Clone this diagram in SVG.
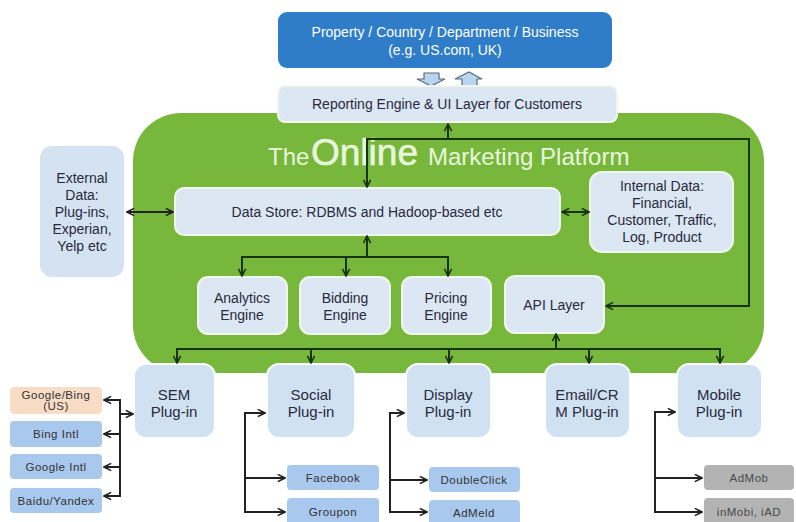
<svg xmlns="http://www.w3.org/2000/svg" width="796" height="522" viewBox="0 0 796 522">
  <style>
    text { font-family: "Liberation Sans", Arial, sans-serif; text-anchor: middle; fill: #2a2a3c; }
    .box { fill: #dbe7f3; stroke: #f2f7ee; stroke-width: 2; }
    .ext { fill: #d4e2f1; }
    .plug { fill: #d0e1f2; stroke: #ffffff; stroke-width: 2; }
    .sub { fill: #a9c8ee; }
    .sub-us { fill: #f9dcc6; }
    .sub-grey { fill: #b3b3b3; }
    .t14 { font-size: 14px; }
    .t15 { font-size: 15px; }
    .t11 { font-size: 11.5px; letter-spacing: 0.5px; fill: #333333; }
    .tg { font-size: 11.5px; letter-spacing: 0.5px; fill: #4a4a4a; }
    .in { fill: none; stroke: #17330f; stroke-width: 2; }
    .out { fill: none; stroke: #222222; stroke-width: 2; }
    .title { fill: #eaf6dc; text-anchor: start; }
  </style>
  <defs>
    <marker id="ah-in" viewBox="0 0 10 10" refX="9" refY="5" markerWidth="9" markerHeight="9" markerUnits="userSpaceOnUse" orient="auto-start-reverse">
      <path d="M1,1 L9,5 L1,9" fill="none" stroke="#17330f" stroke-width="1.8"/>
    </marker>
    <marker id="ah-out" viewBox="0 0 10 10" refX="9" refY="5" markerWidth="9" markerHeight="9" markerUnits="userSpaceOnUse" orient="auto-start-reverse">
      <path d="M1,1 L9,5 L1,9" fill="none" stroke="#222222" stroke-width="1.8"/>
    </marker>
  </defs>

  <rect width="796" height="522" fill="#ffffff"/>

  <!-- platform background -->
  <g id="platform">
    <rect x="133" y="113" width="631" height="260" rx="48" fill="#77b83c"/>
    <text class="title" x="268" y="165" font-size="24">The</text>
    <text class="title" x="311" y="165" font-size="37" stroke="#eaf6dc" stroke-width="0.6">Online</text>
    <text class="title" x="428" y="165" font-size="24">Marketing Platform</text>
  </g>

  <g id="property">
    <rect x="278" y="12" width="334" height="56" rx="9" fill="#2f7dc8"/>
    <text class="t14" x="445" y="37" style="fill:#ffffff">Property / Country / Department / Business</text>
    <text class="t14" x="445" y="55" style="fill:#ffffff">(e.g. US.com, UK)</text>
  </g>

  <!-- block arrows between property and reporting layer -->
  <g id="exchange">
    <path d="M424,73 H439 V79 H445 L431,86 L417,79 H424 Z" fill="#b9d5ef" stroke="#5b6b7b" stroke-width="1.2"/>
    <path d="M462,86 H477 V79 H482 L469,72 L455,79 H462 Z" fill="#b9d5ef" stroke="#5b6b7b" stroke-width="1.2"/>
  </g>

  <g id="reporting">
    <rect class="box" x="278" y="86" width="339" height="36" rx="7"/>
    <text class="t14" x="447" y="109">Reporting Engine &amp; UI Layer for Customers</text>
  </g>

  <g id="external">
    <rect class="ext" x="40" y="146" width="84" height="131" rx="12"/>
    <text class="t14" x="82" y="183">External</text>
    <text class="t14" x="82" y="200">Data:</text>
    <text class="t14" x="82" y="217">Plug-ins,</text>
    <text class="t14" x="82" y="234">Experian,</text>
    <text class="t14" x="82" y="251">Yelp etc</text>
  </g>

  <g id="datastore">
    <rect class="box" x="175" y="188" width="385" height="47" rx="9"/>
    <text class="t14" x="367" y="217">Data Store: RDBMS and Hadoop-based etc</text>
  </g>

  <g id="internal">
    <rect class="box" x="590" y="172" width="143" height="80" rx="12"/>
    <text class="t14" x="662" y="191">Internal Data:</text>
    <text class="t14" x="662" y="208">Financial,</text>
    <text class="t14" x="662" y="225">Customer, Traffic,</text>
    <text class="t14" x="662" y="242">Log, Product</text>
  </g>

  <g id="analytics">
    <rect class="box" x="198" y="277" width="89" height="57" rx="10"/>
    <text class="t14" x="242" y="303">Analytics</text>
    <text class="t14" x="242" y="320">Engine</text>
  </g>
  <g id="bidding">
    <rect class="box" x="300" y="277" width="90" height="57" rx="10"/>
    <text class="t14" x="345" y="303">Bidding</text>
    <text class="t14" x="345" y="320">Engine</text>
  </g>
  <g id="pricing">
    <rect class="box" x="402" y="277" width="89" height="57" rx="10"/>
    <text class="t14" x="446" y="303">Pricing</text>
    <text class="t14" x="446" y="320">Engine</text>
  </g>
  <g id="api">
    <rect class="box" x="505" y="276" width="99" height="57" rx="10"/>
    <text class="t14" x="554" y="310">API Layer</text>
  </g>

  <!-- channel plug-ins -->
  <g id="sem">
    <rect class="plug" x="134" y="364" width="81" height="74" rx="12"/>
    <text class="t15" x="174" y="400">SEM</text>
    <text class="t15" x="174" y="417">Plug-in</text>
  </g>
  <g id="social">
    <rect class="plug" x="267" y="364" width="88" height="74" rx="12"/>
    <text class="t15" x="311" y="400">Social</text>
    <text class="t15" x="311" y="417">Plug-in</text>
  </g>
  <g id="display">
    <rect class="plug" x="406" y="364" width="85" height="74" rx="12"/>
    <text class="t15" x="448" y="400">Display</text>
    <text class="t15" x="448" y="417">Plug-in</text>
  </g>
  <g id="email">
    <rect class="plug" x="545" y="364" width="85" height="74" rx="12"/>
    <text class="t15" x="587" y="400">Email/CR</text>
    <text class="t15" x="587" y="417">M Plug-in</text>
  </g>
  <g id="mobile">
    <rect class="plug" x="677" y="364" width="85" height="74" rx="12"/>
    <text class="t15" x="719" y="400">Mobile</text>
    <text class="t15" x="719" y="417">Plug-in</text>
  </g>

  <!-- partners -->
  <g id="google-bing-us">
    <rect class="sub-us" x="10" y="387" width="92" height="27" rx="4"/>
    <text class="t11" x="56" y="399">Google/Bing</text>
    <text class="t11" x="56" y="410">(US)</text>
  </g>
  <g id="bing-intl">
    <rect class="sub" x="10" y="421" width="92" height="26" rx="4"/>
    <text class="t11" x="56" y="438">Bing Intl</text>
  </g>
  <g id="google-intl">
    <rect class="sub" x="10" y="454" width="92" height="25" rx="4"/>
    <text class="t11" x="56" y="471">Google Intl</text>
  </g>
  <g id="baidu-yandex">
    <rect class="sub" x="10" y="488" width="92" height="25" rx="4"/>
    <text class="t11" x="56" y="505">Baidu/Yandex</text>
  </g>
  <g id="facebook">
    <rect class="sub" x="287" y="465" width="92" height="25" rx="4"/>
    <text class="t11" x="333" y="482">Facebook</text>
  </g>
  <g id="groupon">
    <rect class="sub" x="287" y="498" width="92" height="30" rx="4"/>
    <text class="t11" x="333" y="516">Groupon</text>
  </g>
  <g id="doubleclick">
    <rect class="sub" x="429" y="467" width="91" height="25" rx="4"/>
    <text class="t11" x="474" y="484">DoubleClick</text>
  </g>
  <g id="admeld">
    <rect class="sub" x="429" y="500" width="91" height="28" rx="4"/>
    <text class="t11" x="474" y="517">AdMeld</text>
  </g>
  <g id="admob">
    <rect class="sub-grey" x="704" y="465" width="90" height="25" rx="4"/>
    <text class="tg" x="749" y="482">AdMob</text>
  </g>
  <g id="inmobi">
    <rect class="sub-grey" x="704" y="498" width="90" height="30" rx="4"/>
    <text class="tg" x="749" y="516">inMobi, iAD</text>
  </g>

  <g id="connectors">
    <!-- platform to reporting layer and API -->
    <path class="in" d="M448,139 V124" marker-end="url(#ah-in)"/>
    <path class="in" d="M367,187 V139 H749 V306 H606" marker-start="url(#ah-in)" marker-end="url(#ah-in)"/>
    <!-- data sources -->
    <path class="out" d="M127,212 H173" marker-start="url(#ah-out)" marker-end="url(#ah-out)"/>
    <path class="in" d="M562,212 H589" marker-start="url(#ah-in)" marker-end="url(#ah-in)"/>
    <!-- engines -->
    <path class="in" d="M367,236 V257" marker-start="url(#ah-in)"/>
    <path class="in" d="M242,276 V257 H448 V276" marker-start="url(#ah-in)" marker-end="url(#ah-in)"/>
    <path class="in" d="M346,257 V276" marker-end="url(#ah-in)"/>
    <!-- plug-in bus -->
    <path class="in" d="M177,363 V349 H720 V363" marker-start="url(#ah-in)" marker-end="url(#ah-in)"/>
    <path class="in" d="M311,349 V363" marker-end="url(#ah-in)"/>
    <path class="in" d="M449,349 V363" marker-end="url(#ah-in)"/>
    <path class="in" d="M589,349 V363" marker-end="url(#ah-in)"/>
    <path class="in" d="M556,349 V334" marker-end="url(#ah-in)"/>
    <!-- SEM partners -->
    <path class="out" d="M104,400 H120 V496 H104" marker-start="url(#ah-out)" marker-end="url(#ah-out)"/>
    <path class="out" d="M120,434 H104" marker-end="url(#ah-out)"/>
    <path class="out" d="M120,467 H104" marker-end="url(#ah-out)"/>
    <path class="out" d="M120,414 H133" marker-end="url(#ah-out)"/>
    <!-- Social partners -->
    <path class="out" d="M265,413 H245 V512 H285" marker-start="url(#ah-out)" marker-end="url(#ah-out)"/>
    <path class="out" d="M245,478 H285" marker-end="url(#ah-out)"/>
    <!-- Display partners -->
    <path class="out" d="M404,413 H390 V512 H427" marker-start="url(#ah-out)" marker-end="url(#ah-out)"/>
    <path class="out" d="M390,480 H427" marker-end="url(#ah-out)"/>
    <!-- Mobile partners -->
    <path class="out" d="M675,412 H655 V512 H702" marker-start="url(#ah-out)" marker-end="url(#ah-out)"/>
    <path class="out" d="M655,478 H702" marker-end="url(#ah-out)"/>
  </g>
</svg>
